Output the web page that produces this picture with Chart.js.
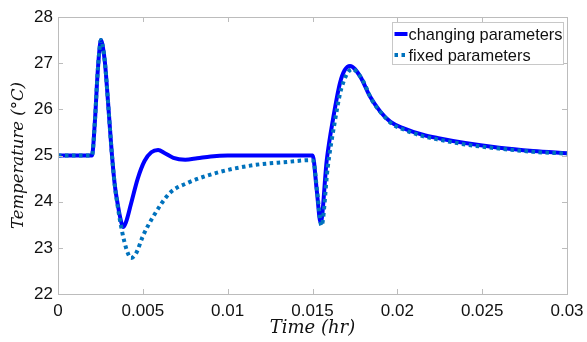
<!DOCTYPE html>
<html>
<head>
<meta charset="utf-8">
<script src="https://cdn.jsdelivr.net/npm/chart.js@4/dist/chart.umd.min.js"></script>
<style>
html,body{margin:0;padding:0;background:#fff;}
#wrap{width:587px;height:342px;}
</style>
</head>
<body>
<div id="wrap"><canvas id="c" width="587" height="342"></canvas></div>
<script>
const seriesNames = ['changing parameters', 'fixed parameters'];
const xTickValues = [0, 0.005, 0.01, 0.015, 0.02, 0.025, 0.03];
const yTickValues = [22, 23, 24, 25, 26, 27, 28];

const tChanging = [0, 0.0020, 0.00218, 0.00232, 0.00244, 0.00253, 0.00262, 0.00277, 0.00297, 0.00316, 0.00335, 0.00354, 0.0037, 0.00383, 0.004, 0.0043, 0.0047, 0.0051, 0.0055, 0.0059, 0.0063, 0.0068, 0.0075, 0.0082, 0.009, 0.01, 0.0125, 0.01501, 0.01525, 0.01548, 0.01584, 0.01623, 0.01662, 0.0169, 0.01721, 0.0178, 0.0184, 0.019, 0.0196, 0.0203, 0.0215, 0.0225, 0.024, 0.026, 0.028, 0.03];
const vChanging = [25, 25, 25.77, 26.7, 27.28, 27.5, 27.4, 27.0, 26.05, 25.1, 24.35, 23.9, 23.6, 23.45, 23.55, 23.95, 24.5, 24.88, 25.07, 25.12, 25.05, 24.95, 24.91, 24.94, 24.98, 25.0, 25.0, 25.0, 24.25, 23.54, 24.9, 25.83, 26.57, 26.85, 26.94, 26.72, 26.27, 25.95, 25.73, 25.6, 25.45, 25.37, 25.27, 25.17, 25.1, 25.05];

const tFixed = [0, 0.0020, 0.00218, 0.00232, 0.00244, 0.00253, 0.00262, 0.00277, 0.00297, 0.00316, 0.00335, 0.00354, 0.0037, 0.0039, 0.0041, 0.0043, 0.0046, 0.005, 0.0056, 0.0066, 0.0076, 0.0095, 0.0115, 0.0135, 0.0149, 0.01505, 0.01528, 0.01553, 0.0159, 0.0163, 0.0167, 0.01735, 0.018, 0.0185, 0.0191, 0.0197, 0.0204, 0.0215, 0.0225, 0.024, 0.026, 0.028, 0.03];
const vFixed = [25, 25, 25.77, 26.7, 27.28, 27.5, 27.4, 27.0, 26.05, 25.1, 24.35, 23.85, 23.5, 23.15, 22.9, 22.78, 22.88, 23.25, 23.67, 24.19, 24.4, 24.64, 24.79, 24.86, 24.9, 24.88, 24.2, 23.48, 24.75, 25.7, 26.45, 26.87, 26.6, 26.2, 25.9, 25.68, 25.56, 25.42, 25.34, 25.24, 25.15, 25.08, 25.04];

const toPts = (ts, vs) => ts.map((t, i) => ({x: t, y: vs[i]}));

const boxPlugin = {
  id: 'matlabBox',
  afterDraw(chart) {
    const {ctx, chartArea: a, scales} = chart;
    ctx.save();
    ctx.strokeStyle = '#bcbcbc';
    ctx.lineWidth = 1;
    ctx.beginPath();
    const tl = 5;
    xTickValues.forEach(v => {
      const px = Math.round(scales.x.getPixelForValue(v)) + 0.5;
      ctx.moveTo(px, a.bottom); ctx.lineTo(px, a.bottom - tl);
      ctx.moveTo(px, a.top); ctx.lineTo(px, a.top + tl);
    });
    yTickValues.forEach(v => {
      const py = Math.round(scales.y.getPixelForValue(v)) + 0.5;
      ctx.moveTo(a.left, py); ctx.lineTo(a.left + tl, py);
      ctx.moveTo(a.right, py); ctx.lineTo(a.right - tl, py);
    });
    ctx.stroke();
    ctx.strokeRect(Math.round(a.left) + 0.5, Math.round(a.top) + 0.5, Math.round(a.right - a.left), Math.round(a.bottom - a.top));

    // legend
    const lx = 392.5, ly = 22.5, lw = 171, lh = 42;
    ctx.fillStyle = '#fff';
    ctx.fillRect(lx, ly, lw, lh);
    ctx.strokeStyle = '#c8c8c8';
    ctx.strokeRect(lx, ly, lw, lh);
    const ds = chart.data.datasets;
    const rows = [34, 55];
    ds.forEach((d, i) => {
      ctx.save();
      ctx.strokeStyle = d.borderColor;
      ctx.lineWidth = d.borderWidth;
      ctx.setLineDash(d.borderDash || []);
      ctx.beginPath();
      ctx.moveTo(lx + 2, rows[i]); ctx.lineTo(lx + 15, rows[i]);
      ctx.stroke();
      ctx.restore();
      ctx.fillStyle = '#111';
      ctx.font = '16.4px "Liberation Sans", Arial, sans-serif';
      ctx.textBaseline = 'middle';
      ctx.textAlign = 'left';
      ctx.fillText(d.label, lx + 16, rows[i] + 1);
    });
    ctx.restore();
  }
};

new Chart(document.getElementById('c'), {
  type: 'line',
  data: {
    datasets: [
      {label: seriesNames[0], data: toPts(tChanging, vChanging), borderColor: '#0000ff', borderWidth: 4, pointRadius: 0, cubicInterpolationMode: 'monotone', fill: false, order: 1},
      {label: seriesNames[1], data: toPts(tFixed, vFixed), borderColor: '#0072bd', borderWidth: 4, borderDash: [3.5, 3.5], borderCapStyle: 'butt', pointRadius: 0, cubicInterpolationMode: 'monotone', fill: false, order: 0}
    ]
  },
  options: {
    responsive: false,
    animation: false,
    devicePixelRatio: 1,
    layout: {padding: {left: 0, right: 20, top: 17, bottom: 0}},
    plugins: {legend: {display: false}, tooltip: {enabled: false}},
    scales: {
      x: {
        type: 'linear', min: 0, max: 0.03,
        afterBuildTicks: s => { s.ticks = xTickValues.map(v => ({value: v})); },
        afterFit: s => { s.height = 48; s.paddingLeft = 0; s.paddingRight = 0; },
        grid: {display: false, drawTicks: false},
        border: {display: false},
        ticks: {color: '#111', padding: 7, maxRotation: 0, font: {family: '"Liberation Sans", Arial, sans-serif', size: 17}, callback: v => String(v)},
        title: {display: true, text: 'Time (hr)', color: '#111', padding: {top: 0, bottom: 3}, font: {family: '"DejaVu Serif", "Liberation Serif", serif', style: 'italic', size: 18}}
      },
      y: {
        type: 'linear', min: 22, max: 28,
        afterBuildTicks: s => { s.ticks = yTickValues.map(v => ({value: v})); },
        afterFit: s => { s.width = 58; s.paddingTop = 0; s.paddingBottom = 0; },
        grid: {display: false, drawTicks: false},
        border: {display: false},
        ticks: {color: '#111', padding: 5, font: {family: '"Liberation Sans", Arial, sans-serif', size: 17}},
        title: {display: true, text: 'Temperature (°C)', color: '#111', padding: {top: 9, bottom: 0}, font: {family: '"DejaVu Serif", "Liberation Serif", serif', style: 'italic', size: 16.5}}
      }
    }
  },
  plugins: [boxPlugin]
});
</script>
</body>
</html>
